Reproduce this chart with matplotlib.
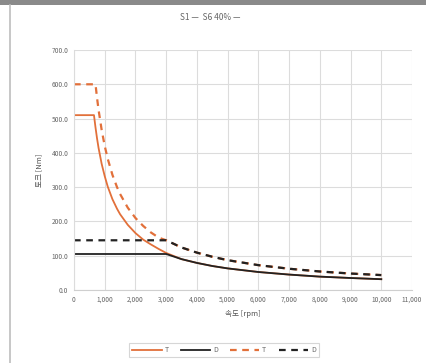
import matplotlib
matplotlib.use("Agg")
import matplotlib.pyplot as plt
from matplotlib.ticker import FuncFormatter, MultipleLocator
from matplotlib.lines import Line2D
from matplotlib.patches import Rectangle

plt.rcParams['font.family'] = ['Noto Sans CJK KR', 'DejaVu Sans']

# data
rpm_s1_t = [0, 650, 700, 750, 800, 900, 1000, 1100, 1250, 1400, 1500, 1750, 2000, 2250, 2500, 2750,
            3000, 3500, 4000, 4500, 5000, 6000, 7000, 8000, 9000, 10000]
s1_t = [510, 510, 474, 442, 414, 368, 332, 301, 265, 237, 221, 190, 166, 147, 133, 120,
        108, 90, 79, 70, 63, 52.5, 45, 39, 35, 31.5]
rpm_s1_d = [0, 3000, 3500, 4000, 4500, 5000, 6000, 7000, 8000, 9000, 10000]
s1_d = [105, 105, 90, 79, 70, 63, 52.5, 45, 39, 35, 31.5]
rpm_s6_t = [0, 700, 750, 800, 900, 1000, 1100, 1250, 1400, 1500, 1750, 2000, 2250, 2500, 2750,
            3000, 3500, 4000, 4500, 5000, 6000, 7000, 8000, 9000, 10000]
s6_t = [600, 600, 560, 525, 467, 420, 382, 336, 300, 280, 240, 210, 187, 168, 153,
        145, 124, 109, 97, 87, 72.5, 62, 54, 48, 43.5]
rpm_s6_d = [0, 3000, 3500, 4000, 4500, 5000, 6000, 7000, 8000, 9000, 10000]
s6_d = [145, 145, 124, 109, 97, 87, 72.5, 62, 54, 48, 43.5]
legend_labels = ["T", "D", "T", "D"]
title_text = "S1 —  S6 40% —"
xlabel_text = "속도 [rpm]"
ylabel_text = "토크 [Nm]"

W, H = 426, 363
fig = plt.figure(figsize=(W / 100, H / 100), dpi=100)
fig.patch.set_facecolor("white")

# screenshot frame
fig.patches.append(Rectangle((0, 1 - 5 / H), 1, 5 / H, transform=fig.transFigure,
                             facecolor="#8a8a8a", edgecolor="none"))
fig.lines.append(Line2D([10 / W, 10 / W], [0, 1 - 5 / H], transform=fig.transFigure,
                        color="#bdbdbd", lw=1.2))

ax = fig.add_axes([74 / W, 1 - 290 / H, (412 - 74) / W, (290 - 50) / H])
orange = "#E2703A"
ax.plot(rpm_s1_t, s1_t, color=orange, lw=1.3, label=legend_labels[0])
ax.plot(rpm_s1_d, s1_d, color="#222222", lw=1.3, label=legend_labels[1])
ax.plot(rpm_s6_t, s6_t, color=orange, lw=1.6, ls=(0, (3, 2.5)), label=legend_labels[2])
ax.plot(rpm_s6_d, s6_d, color="#222222", lw=1.6, ls=(0, (3, 2.5)), label=legend_labels[3])

ax.set_xlim(0, 11000)
ax.set_ylim(0, 700)
ax.xaxis.set_major_locator(MultipleLocator(1000))
ax.yaxis.set_major_locator(MultipleLocator(100))
ax.xaxis.set_major_formatter(FuncFormatter(lambda v, p: f"{int(v):,}"))
ax.yaxis.set_major_formatter(FuncFormatter(lambda v, p: f"{v:.1f}"))
ax.grid(True, color="#dcdcdc", lw=0.8)
ax.set_axisbelow(True)
for s in ax.spines.values():
    s.set_visible(False)
ax.spines['bottom'].set_visible(True)
ax.spines['bottom'].set_color("#cfcfcf")
ax.spines['left'].set_visible(True)
ax.spines['left'].set_color("#dcdcdc")
ax.tick_params(length=0, labelsize=4.8, colors="#666666", pad=4)
ax.set_xlabel(xlabel_text, fontsize=5.5, color="#555555", labelpad=5)
ax.set_ylabel(ylabel_text, fontsize=5.5, color="#555555", labelpad=6)

fig.text(210 / W, 1 - 18 / H, title_text, ha="center", va="center", fontsize=6, color="#666666")

leg = fig.legend(loc="center", bbox_to_anchor=(224 / W, 1 - 350 / H), ncol=4, fontsize=5,
                 frameon=True, fancybox=False, handlelength=4.2, columnspacing=1.8,
                 handletextpad=0.4, borderpad=0.5)
leg.get_frame().set_edgecolor("#cccccc")
leg.get_frame().set_linewidth(0.8)
for t in leg.get_texts():
    t.set_color("#666666")

fig.savefig("out.png", dpi=100)
